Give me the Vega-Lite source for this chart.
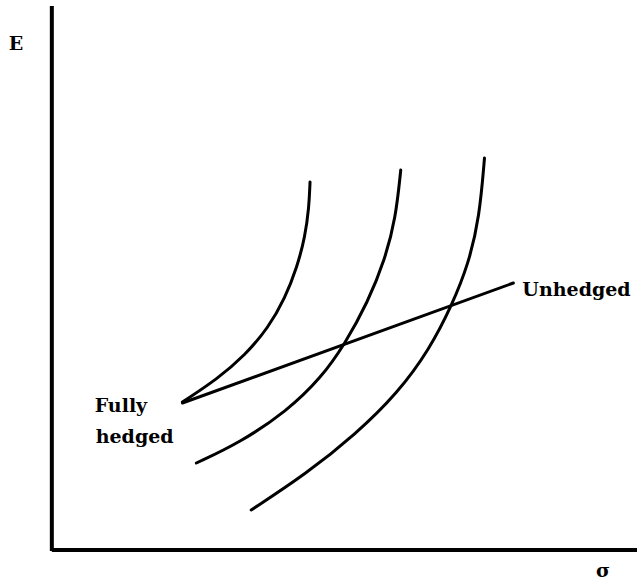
{
  "$schema": "https://vega.github.io/schema/vega-lite/v6.json",
  "width": 639,
  "height": 583,
  "autosize": {"type": "fit", "contains": "padding"},
  "padding": 0,
  "background": "white",
  "config": {"view": {"stroke": null}},
  "datasets": {
    "curves": [
      {"c": "I1", "x": 183, "y": 402},
      {"c": "I1", "x": 218, "y": 379},
      {"c": "I1", "x": 246, "y": 355},
      {"c": "I1", "x": 269, "y": 328},
      {"c": "I1", "x": 286, "y": 298},
      {"c": "I1", "x": 298, "y": 267},
      {"c": "I1", "x": 306, "y": 237},
      {"c": "I1", "x": 310, "y": 207},
      {"c": "I1", "x": 311, "y": 182},
      {"c": "I2", "x": 197, "y": 463},
      {"c": "I2", "x": 240, "y": 443},
      {"c": "I2", "x": 288, "y": 411},
      {"c": "I2", "x": 322, "y": 378},
      {"c": "I2", "x": 346, "y": 344},
      {"c": "I2", "x": 369, "y": 302},
      {"c": "I2", "x": 386, "y": 260},
      {"c": "I2", "x": 397, "y": 218},
      {"c": "I2", "x": 402, "y": 170},
      {"c": "I3", "x": 252, "y": 510},
      {"c": "I3", "x": 307, "y": 474},
      {"c": "I3", "x": 357, "y": 434},
      {"c": "I3", "x": 399, "y": 393},
      {"c": "I3", "x": 431, "y": 349},
      {"c": "I3", "x": 453, "y": 306},
      {"c": "I3", "x": 470, "y": 264},
      {"c": "I3", "x": 481, "y": 217},
      {"c": "I3", "x": 486, "y": 158},
      {"c": "L", "x": 183, "y": 403},
      {"c": "L", "x": 515, "y": 283}
    ],
    "axes": [
      {"x": 52, "y": 6, "x2": 52, "y2": 551},
      {"x": 52, "y": 550, "x2": 639, "y2": 550}
    ],
    "centered": [
      {"t": "E", "x": 16, "y": 44},
      {"t": "σ", "x": 605, "y": 571}
    ],
    "labels": [
      {"t": "Fully", "x": 95, "y": 406},
      {"t": "hedged", "x": 96, "y": 437},
      {"t": "Unhedged", "x": 524, "y": 290}
    ]
  },
  "layer": [
    {
      "data": {"name": "axes"},
      "mark": {"type": "rule", "strokeWidth": 4, "color": "black"},
      "encoding": {
        "x": {"field": "x", "type": "quantitative", "scale": {"domain": [0, 639]}, "axis": null},
        "y": {"field": "y", "type": "quantitative", "scale": {"domain": [583, 0]}, "axis": null},
        "x2": {"field": "x2"},
        "y2": {"field": "y2"}
      }
    },
    {
      "data": {"name": "curves"},
      "mark": {"type": "line", "interpolate": "basis", "strokeWidth": 3, "color": "black", "strokeCap": "round"},
      "encoding": {
        "x": {"field": "x", "type": "quantitative", "scale": {"domain": [0, 639]}, "axis": null},
        "y": {"field": "y", "type": "quantitative", "scale": {"domain": [583, 0]}, "axis": null},
        "detail": {"field": "c"}
      }
    },
    {
      "data": {"name": "centered"},
      "mark": {"type": "text", "font": "DejaVu Serif", "fontSize": 19, "fontWeight": "bold", "baseline": "middle", "align": "center", "color": "black"},
      "encoding": {
        "x": {"field": "x", "type": "quantitative", "scale": {"domain": [0, 639]}, "axis": null},
        "y": {"field": "y", "type": "quantitative", "scale": {"domain": [583, 0]}, "axis": null},
        "text": {"field": "t"}
      }
    },
    {
      "data": {"name": "labels"},
      "mark": {"type": "text", "font": "DejaVu Serif", "fontSize": 19, "fontWeight": "bold", "baseline": "middle", "align": "left", "color": "black"},
      "encoding": {
        "x": {"field": "x", "type": "quantitative", "scale": {"domain": [0, 639]}, "axis": null},
        "y": {"field": "y", "type": "quantitative", "scale": {"domain": [583, 0]}, "axis": null},
        "text": {"field": "t"}
      }
    }
  ]
}
